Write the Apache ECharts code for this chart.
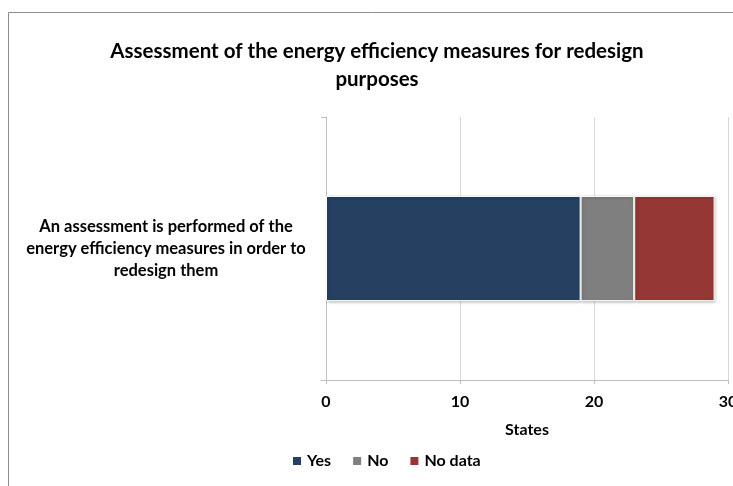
<!DOCTYPE html>
<html><head><meta charset="utf-8">
<script src="https://cdn.jsdelivr.net/npm/echarts@6/dist/echarts.min.js"></script>
<style>html,body{margin:0;padding:0;background:#fff}#c{width:733px;height:486px}</style>
</head><body><div id="c"></div>
<script>
const titleText = 'Assessment of the energy efficiency measures for redesign\npurposes';
const categories = ['An assessment is performed of the\nenergy efficiency measures in order to\nredesign them'];
const seriesNames = ['Yes', 'No', 'No data'];
const yesValues = [19];
const noValues = [4];
const noDataValues = [6];
const colors = ['#254061', '#7f7f7f', '#953735'];
const xAxisName = 'States';

const font = 'Lato, "Open Sans", sans-serif';
const chart = echarts.init(document.getElementById('c'));
const mk = (name, data, color) => ({
  name, type: 'bar', stack: 'a', data, barWidth: '40%',
  itemStyle: { color, borderColor: '#ffffff', borderWidth: 1, shadowColor: 'rgba(0,0,0,0.25)', shadowBlur: 3, shadowOffsetX: 1, shadowOffsetY: 1 }
});
chart.setOption({
  animation: false,
  textStyle: { fontFamily: font },
  graphic: [{ type: 'rect', shape: { x: 8.5, y: 12.5, width: 800, height: 600 }, style: { fill: 'none', stroke: '#8c8c8c', lineWidth: 1 } }],
  title: { text: titleText, left: 372, top: 32, textAlign: 'center',
    textStyle: { fontFamily: font, fontWeight: 'bold', fontSize: 20.5, lineHeight: 28, color: '#000' } },
  legend: { bottom: 12, left: 286, itemWidth: 10, itemHeight: 10, itemGap: 20, icon: 'rect',
    textStyle: { fontFamily: font, fontWeight: 'bold', fontSize: 16, color: '#000' },
    data: seriesNames },
  grid: { left: 326, right: 5, top: 117, bottom: 106, containLabel: false, outerBoundsMode: 'none' },
  xAxis: { type: 'value', min: 0, max: 30, interval: 10,
    name: xAxisName, nameLocation: 'middle', nameGap: 42,
    nameTextStyle: { fontFamily: font, fontWeight: 'bold', fontSize: 16, color: '#000' },
    axisLine: { show: true, lineStyle: { color: '#bfbfbf' } },
    axisTick: { show: true, length: 4, lineStyle: { color: '#bfbfbf' } },
    axisLabel: { fontFamily: font, fontWeight: 'bold', fontSize: 16, color: '#000', margin: 14 },
    splitLine: { show: true, lineStyle: { color: '#d9d9d9' } } },
  yAxis: { type: 'category', data: categories,
    axisLine: { show: true, lineStyle: { color: '#bfbfbf' } },
    axisTick: { show: true, length: 5, lineStyle: { color: '#bfbfbf' } },
    axisLabel: { fontFamily: font, fontWeight: 'bold', fontSize: 16.5, color: '#000', align: 'center', margin: 160, lineHeight: 22 } },
  series: [mk(seriesNames[0], yesValues, colors[0]), mk(seriesNames[1], noValues, colors[1]), mk(seriesNames[2], noDataValues, colors[2])]
});
</script></body></html>
